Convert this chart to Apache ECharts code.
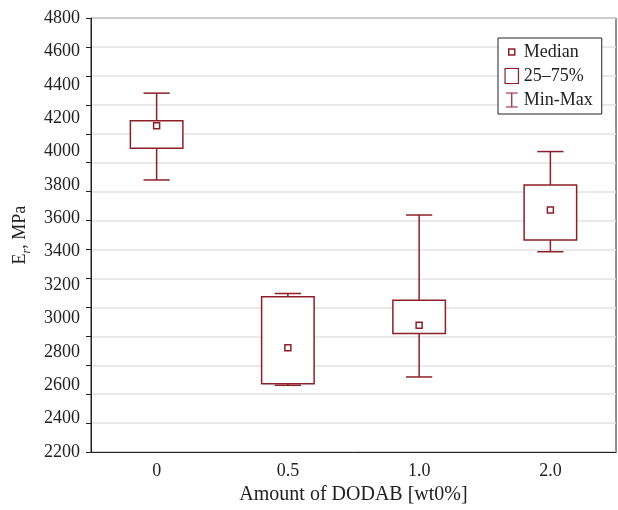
<!DOCTYPE html>
<html>
<head>
<meta charset="utf-8">
<script src="https://cdn.jsdelivr.net/npm/echarts@6/dist/echarts.min.js"></script>
<style>
  html, body { margin: 0; padding: 0; background: #fff; }
  #chart { width: 618px; height: 510px; }
</style>
</head>
<body>
<div id="chart"></div>
<script>
// 数据
var categories = ['0', '0.5', '1.0', '2.0'];
var minVals = [3830, 2600, 2650, 3400];
var q1Vals  = [4020, 2610, 2910, 3470];
var medVals = [4155, 2825, 2960, 3650];
var q3Vals  = [4185, 3130, 3110, 3800];
var maxVals = [4350, 3150, 3620, 4000];
var yTicks = [2200, 4800, 200];   // min, max, interval (labels)
var gridLineCount = 15;           // gridlines / ticks in the figure

var red = '#8c1f28';
var font = 'Liberation Serif';

var chart = echarts.init(document.getElementById('chart'));

var boxData = categories.map(function (c, i) {
  return [i, minVals[i], q1Vals[i], medVals[i], q3Vals[i], maxVals[i]];
});

chart.setOption({
  animation: false,
  grid: { left: 91, right: 2, top: 18, bottom: 52, show: true, borderColor: '#222', borderWidth: 1 },
  legend: {
    orient: 'vertical',
    left: 498, top: 38,
    itemWidth: 14, itemHeight: 15, itemGap: 6,
    padding: [5, 9, 5, 6],
    borderColor: '#222', borderWidth: 1,
    backgroundColor: '#fff',
    selectedMode: false,
    textStyle: { fontFamily: font, fontSize: 18, color: '#222' },
    data: [
      { name: 'Median', icon: 'path://M0,0M14,15M4,4.5L10,4.5L10,10.5L4,10.5Z',
        itemStyle: { color: '#fff', borderColor: red, borderWidth: 1.5 } },
      { name: '25–75%', icon: 'path://M0.5,0.5L13,0.5L13,14.5L0.5,14.5Z',
        itemStyle: { color: '#fff', borderColor: red, borderWidth: 1.2 } },
      { name: 'Min-Max', icon: 'path://M0,0M14,15M1,0.5L13,0.5M7,0.5L7,14.5M1,14.5L13,14.5',
        itemStyle: { color: 'transparent', borderColor: red, borderWidth: 1.2 } }
    ]
  },
  xAxis: {
    type: 'category',
    data: categories,
    boundaryGap: true,
    name: 'Amount of DODAB [wt0%]',
    nameLocation: 'middle',
    nameGap: 31,
    nameTextStyle: { fontFamily: font, fontSize: 20, color: '#222' },
    axisLine: { lineStyle: { color: '#222' } },
    axisTick: { alignWithLabel: true, length: 5, lineStyle: { color: '#222' } },
    axisLabel: { fontFamily: font, fontSize: 18, color: '#222', margin: 10 },
    splitLine: { show: false }
  },
  yAxis: [{
    type: 'value',
    min: yTicks[0], max: yTicks[1], interval: yTicks[2],
    position: 'left',
    name: '{e|E}{r|r}{e|, MPa}',
    nameLocation: 'middle',
    nameGap: 56,
    nameTextStyle: {
      color: '#222',
      rich: {
        e: { fontFamily: font, fontSize: 18, color: '#222', verticalAlign: 'bottom', padding: [0, 0, 4, 0] },
        r: { fontFamily: font, fontSize: 12, fontStyle: 'italic', color: '#222', verticalAlign: 'bottom' }
      }
    },
    axisLine: { show: true, lineStyle: { color: '#222' } },
    axisTick: { show: false },
    axisLabel: {
      fontFamily: font, fontSize: 18, color: '#222', margin: 11,
      formatter: function (v) { return String(v); }
    },
    splitLine: { show: false }
  }, {
    type: 'value',
    min: 0, max: gridLineCount, interval: 1,
    position: 'left',
    axisLine: { show: false },
    axisTick: { show: true, length: 5, lineStyle: { color: '#222' } },
    axisLabel: { show: false },
    splitLine: { show: true, lineStyle: { color: '#e2e2e2', width: 1.5 } }
  }],
  series: [
    {
      name: 'Min-Max',
      type: 'custom',
      yAxisIndex: 0,
      itemStyle: { color: red },
      encode: { x: 0, y: [1, 2, 4, 5] },
      data: boxData,
      renderItem: function (params, api) {
        var x = api.value(0);
        var pMin = api.coord([x, api.value(1)]);
        var pQ1 = api.coord([x, api.value(2)]);
        var pQ3 = api.coord([x, api.value(4)]);
        var pMax = api.coord([x, api.value(5)]);
        var half = api.size([1, 0])[0] * 0.1;
        var st = { stroke: red, lineWidth: 1.5 };
        return {
          type: 'group',
          children: [
            { type: 'line', shape: { x1: pMax[0], y1: pMax[1], x2: pQ3[0], y2: pQ3[1] }, style: st },
            { type: 'line', shape: { x1: pQ1[0], y1: pQ1[1], x2: pMin[0], y2: pMin[1] }, style: st },
            { type: 'line', shape: { x1: pMax[0] - half, y1: pMax[1], x2: pMax[0] + half, y2: pMax[1] }, style: st },
            { type: 'line', shape: { x1: pMin[0] - half, y1: pMin[1], x2: pMin[0] + half, y2: pMin[1] }, style: st }
          ]
        };
      }
    },
    {
      name: '25–75%',
      type: 'custom',
      yAxisIndex: 0,
      itemStyle: { color: red },
      encode: { x: 0, y: [2, 4] },
      data: boxData,
      renderItem: function (params, api) {
        var x = api.value(0);
        var pQ1 = api.coord([x, api.value(2)]);
        var pQ3 = api.coord([x, api.value(4)]);
        var w = api.size([1, 0])[0] * 0.4;
        return {
          type: 'rect',
          shape: { x: pQ3[0] - w / 2, y: pQ3[1], width: w, height: pQ1[1] - pQ3[1] },
          style: { fill: '#fff', stroke: red, lineWidth: 1.5 }
        };
      }
    },
    {
      name: 'Median',
      type: 'custom',
      yAxisIndex: 0,
      itemStyle: { color: red },
      encode: { x: 0, y: 3 },
      data: boxData,
      renderItem: function (params, api) {
        var p = api.coord([api.value(0), api.value(3)]);
        return {
          type: 'rect',
          shape: { x: p[0] - 3, y: p[1] - 3, width: 6, height: 6 },
          style: { fill: '#fff', stroke: red, lineWidth: 1.5 }
        };
      }
    }
  ]
});
</script>
</body>
</html>
